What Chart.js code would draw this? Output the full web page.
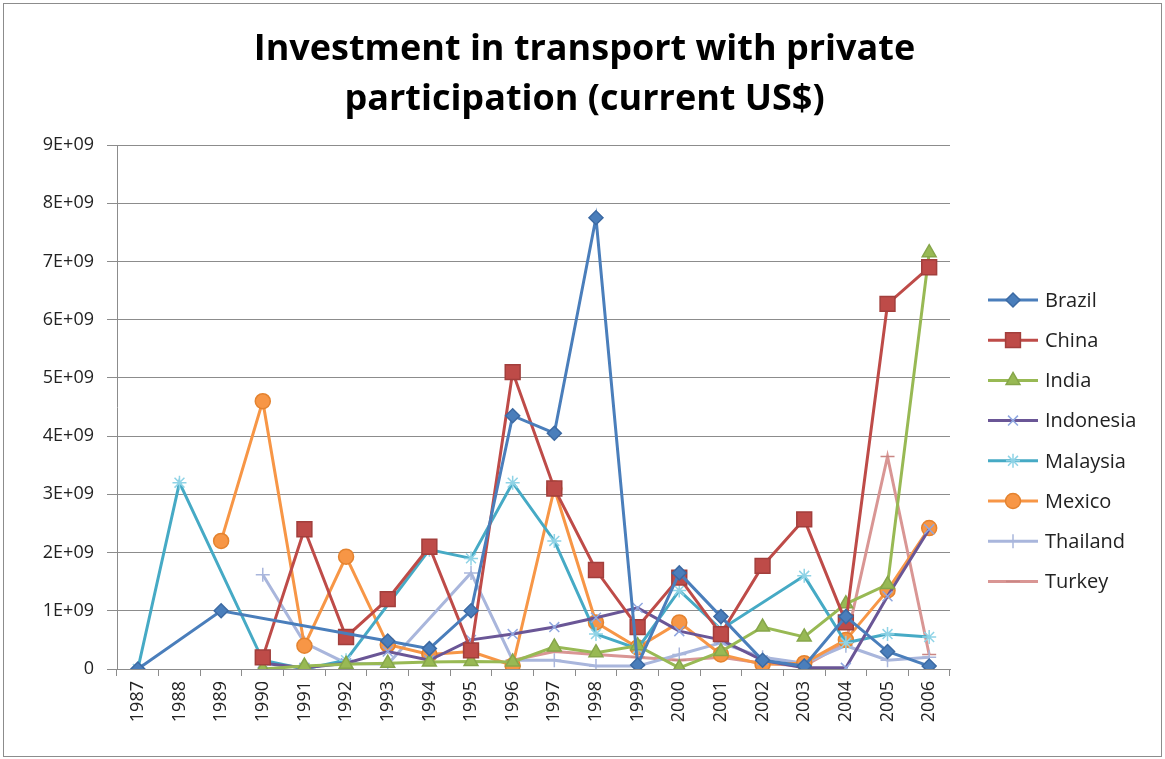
<!DOCTYPE html>
<html>
<head>
<meta charset="utf-8">
<script src="https://cdn.jsdelivr.net/npm/chart.js@4.4.0/dist/chart.umd.min.js"></script>
<style>
  html, body { margin: 0; padding: 0; background: #fff; }
  #wrap { position: relative; width: 1165px; height: 759px; }
  #wrap::after {
    content: ''; position: absolute; left: 3px; top: 3px; right: 3px; bottom: 2px;
    border: 1px solid #8c8c8c; pointer-events: none;
  }
  canvas { display: block; }
</style>
</head>
<body>
<div id="wrap"><canvas id="chart" width="1165" height="759"></canvas></div>
<script>
// Investment in transport with private participation, current US$, by year
const years = ['1987', '1988', '1989', '1990', '1991', '1992', '1993', '1994', '1995', '1996',
               '1997', '1998', '1999', '2000', '2001', '2002', '2003', '2004', '2005', '2006'];

const brazil    = [0, null, 1.0e9, null, null, null, 0.48e9, 0.35e9, 1.0e9, 4.35e9,
                   4.05e9, 7.75e9, 0.07e9, 1.65e9, 0.9e9, 0.15e9, 0.05e9, 0.9e9, 0.3e9, 0.05e9];
const china     = [null, null, null, 0.2e9, 2.4e9, 0.55e9, 1.2e9, 2.1e9, 0.32e9, 5.1e9,
                   3.1e9, 1.7e9, 0.72e9, 1.57e9, 0.6e9, 1.77e9, 2.57e9, 0.8e9, 6.27e9, 6.9e9];
const india     = [null, null, null, 0, 0.05e9, 0.08e9, 0.1e9, 0.12e9, 0.13e9, 0.12e9,
                   0.38e9, 0.28e9, 0.4e9, 0.02e9, 0.3e9, 0.72e9, 0.55e9, 1.12e9, 1.45e9, 7.15e9];
const indonesia = [null, null, null, 0.1e9, 0.02e9, 0.1e9, 0.3e9, 0.15e9, 0.5e9, 0.6e9,
                   0.72e9, 0.88e9, 1.05e9, 0.65e9, 0.5e9, 0.15e9, 0.02e9, 0.02e9, 1.25e9, 2.4e9];
const malaysia  = [0, 3.2e9, null, 0.15e9, 0, 0.15e9, null, 2.05e9, 1.9e9, 3.2e9,
                   2.2e9, 0.6e9, 0.35e9, 1.35e9, 0.68e9, null, 1.6e9, 0.45e9, 0.6e9, 0.55e9];
const mexico    = [null, null, 2.2e9, 4.6e9, 0.4e9, 1.93e9, 0.42e9, 0.25e9, 0.3e9, 0.06e9,
                   3.1e9, 0.8e9, 0.37e9, 0.8e9, 0.25e9, 0.08e9, 0.1e9, 0.5e9, 1.35e9, 2.42e9];
const thailand  = [null, null, null, 1.62e9, 0.45e9, 0.1e9, 0.08e9, null, 1.65e9, 0.15e9,
                   0.15e9, 0.05e9, 0.05e9, 0.25e9, 0.45e9, 0.2e9, 0.1e9, 0.4e9, 0.15e9, 0.2e9];
const turkey    = [null, null, null, null, null, null, null, null, null, 0.15e9,
                   0.3e9, 0.25e9, 0.2e9, 0.15e9, 0.2e9, 0.1e9, 0.05e9, 0.45e9, 3.65e9, 0.25e9];

const yTicks = [0, 1e9, 2e9, 3e9, 4e9, 5e9, 6e9, 7e9, 8e9, 9e9];
const yTickLabels = ['0', '1E+09', '2E+09', '3E+09', '4E+09', '5E+09', '6E+09', '7E+09', '8E+09', '9E+09'];
const titleLines = ['Investment in transport with private', 'participation (current US$)'];

const FONT = "'Open Sans', 'Liberation Sans', sans-serif";

function series(label, data, color, markerFill, markerLine, style, radius) {
    return {
        label: label,
        data: data,
        borderColor: color,
        backgroundColor: color,
        borderWidth: 3,
        pointStyle: style,
        pointRadius: radius,
        pointHoverRadius: radius,
        pointBackgroundColor: markerFill,
        pointBorderColor: markerLine,
        pointBorderWidth: 1.5,
        spanGaps: true,
        tension: 0
    };
}

const datasets = [
    series('Brazil', brazil, '#4a7ebb', '#4a7ebb', '#3c6aa3', 'rectRot', 7),
    series('China', china, '#be4b48', '#be4b48', '#a23f3c', 'rect', 10.5),
    series('India', india, '#98b954', '#98b954', '#86a64a', 'triangle', 8),
    series('Indonesia', indonesia, '#6a5696', '#8fa7e0', '#8fa7e0', 'crossRot', 7),
    series('Malaysia', malaysia, '#46aac5', '#8fd3e6', '#8fd3e6', 'star', 7),
    series('Mexico', mexico, '#f79646', '#f79646', '#e4832f', 'circle', 7.5),
    series('Thailand', thailand, '#a9b6dc', '#a9b6dc', '#a9b6dc', 'cross', 7),
    series('Turkey', turkey, '#d99694', '#d99694', '#c98684', 'line', 7)
];

// two-line title centred on the whole canvas, not just the plot
const wideTitle = {
    id: 'wideTitle',
    afterDraw(chart) {
        const ctx = chart.ctx;
        ctx.save();
        ctx.fillStyle = '#000';
        ctx.font = 'bold 36px ' + FONT;
        ctx.textAlign = 'center';
        ctx.textBaseline = 'middle';
        titleLines.forEach((line, i) => ctx.fillText(line, chart.width / 2 + 2, 50 + i * 50));
        ctx.restore();
    }
};

// legend on the right: short line with the marker in the middle, then the name
const sideLegend = {
    id: 'sideLegend',
    afterDraw(chart) {
        const ctx = chart.ctx;
        const area = chart.chartArea;
        const x0 = area.right + 38;
        const top = area.top + 155;
        const step = 40.2;
        ctx.save();
        chart.data.datasets.forEach((ds, i) => {
            const y = top + i * step;
            ctx.strokeStyle = ds.borderColor;
            ctx.lineWidth = 3;
            ctx.beginPath();
            ctx.moveTo(x0, y);
            ctx.lineTo(x0 + 50, y);
            ctx.stroke();
            ctx.fillStyle = ds.pointBackgroundColor;
            ctx.strokeStyle = ds.pointBorderColor;
            ctx.lineWidth = ds.pointBorderWidth;
            Chart.helpers.drawPoint(ctx, {
                pointStyle: ds.pointStyle,
                radius: ds.pointRadius,
                rotation: 0,
                borderWidth: ds.pointBorderWidth
            }, x0 + 25, y);
            ctx.fillStyle = '#222';
            ctx.font = '20px ' + FONT;
            ctx.textAlign = 'left';
            ctx.textBaseline = 'middle';
            ctx.fillText(ds.label, x0 + 57, y + 1);
        });
        ctx.restore();
    }
};

new Chart(document.getElementById('chart'), {
    type: 'line',
    data: { labels: years, datasets: datasets },
    plugins: [wideTitle, sideLegend],
    options: {
        responsive: false,
        animation: false,
        layout: { padding: { left: 0, right: 215, top: 145, bottom: 0 } },
        plugins: {
            legend: { display: false },
            tooltip: { enabled: false },
            title: { display: false }
        },
        scales: {
            x: {
                offset: true,
                grid: {
                    offset: true,
                    drawOnChartArea: false,
                    drawTicks: true,
                    tickLength: 7,
                    color: '#8c8c8c'
                },
                border: { color: '#8c8c8c', width: 1 },
                ticks: {
                    minRotation: 90,
                    maxRotation: 90,
                    autoSkip: false,
                    padding: 5,
                    color: '#222',
                    font: { family: FONT, size: 18 }
                },
                afterFit(scale) { scale.height = 90; }
            },
            y: {
                min: 0,
                max: 9e9,
                afterBuildTicks(scale) { scale.ticks = yTicks.map(v => ({ value: v })); },
                grid: { color: '#8c8c8c', tickLength: 10, lineWidth: 1 },
                border: { color: '#8c8c8c', width: 1 },
                ticks: {
                    padding: 13,
                    color: '#222',
                    font: { family: FONT, size: 18 },
                    callback: (v) => yTickLabels[yTicks.indexOf(v)]
                },
                afterFit(scale) { scale.width = 117; }
            }
        }
    }
});
</script>
</body>
</html>
